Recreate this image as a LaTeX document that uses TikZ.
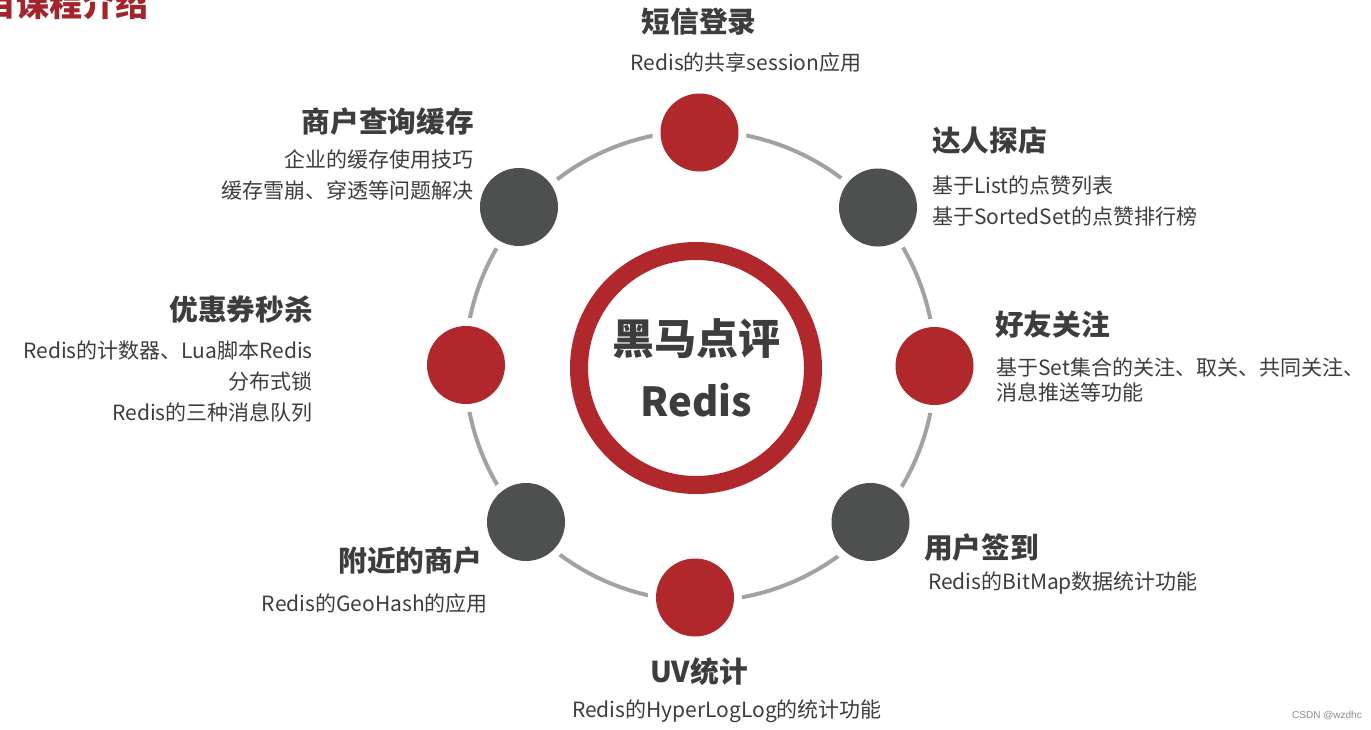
\documentclass[tikz,border=0pt]{standalone}
\usepackage{fontspec}
\newfontfamily\cjk{Noto Sans CJK SC}
\newfontfamily\wm{Liberation Sans}
\definecolor{cred}{HTML}{B0282B}
\definecolor{cdark}{HTML}{4E504F}
\definecolor{corbit}{HTML}{A2A2A2}
\definecolor{ctxt}{HTML}{3D3D3D}
\definecolor{ctitle}{HTML}{A3242B}
\tikzset{
  dot/.style={circle, minimum size=78pt, inner sep=0pt, preaction={draw=white, line width=16pt}},
  reddot/.style={dot, fill=cred},
  graydot/.style={dot, fill=cdark},
  ttl/.style={inner sep=0pt, text=ctxt, font=\cjk\bfseries\fontsize{28.7}{32}\selectfont},
  desc/.style={inner sep=0pt, text=ctxt, font=\cjk\fontsize{21}{31}\selectfont},
}
\begin{document}
\begin{tikzpicture}[x=1pt,y=-1pt]
\useasboundingbox (0,0) rectangle (1371,729);
\clip (0,0) rectangle (1371,729);
\fill[white] (0,0) rectangle (1371,729);
% header (cut off at the page edge, as in the reference)
\node[anchor=west, inner sep=0pt, text=ctitle, font=\cjk\bfseries\fontsize{33}{36}\selectfont] (hdr) at (-17,4) {目课程介绍};
% orbit
\draw[corbit, line width=4pt] (700,366) circle[radius=235];
% hub
\node[circle, draw=cred, line width=18pt, minimum size=234pt, inner sep=0pt, text=ctxt, align=center,
      font=\cjk\bfseries\fontsize{42}{62}\selectfont] (hub) at (696,368) {黑马点评\\\fontsize{40}{62}\selectfont Redis};
% small circles
\node[reddot]  (sms)   at (699.5,132.5) {};
\node[graydot] (tanD)  at (878,207.5) {};
\node[reddot]  (fol)   at (934.5,366) {};
\node[graydot] (sign)  at (870.5,522) {};
\node[reddot]  (uv)    at (695,597.5) {};
\node[graydot] (near)  at (526,522) {};
\node[reddot]  (sec)   at (466,365) {};
\node[graydot] (cache) at (519,207) {};
% texts
\node[ttl, anchor=center] (t1) at (699,22) {短信登录};
\node[desc, anchor=center] (d1) at (746,63) {Redis的共享session应用};
\node[ttl, anchor=east] (t2) at (474,122) {商户查询缓存};
\node[desc, anchor=north east, align=right] (d2) at (474,149.5) {企业的缓存使用技巧\\缓存雪崩、穿透等问题解决};
\node[ttl, anchor=west] (t3) at (932,141) {达人探店};
\node[desc, anchor=north west, align=left] (d3) at (932,175.5) {基于List的点赞列表\\基于SortedSet的点赞排行榜};
\node[ttl, anchor=east] (t4) at (313,310) {优惠券秒杀};
\node[desc, anchor=north east, align=right] (d4) at (313,340.5) {Redis的计数器、Lua脚本Redis\\分布式锁\\Redis的三种消息队列};
\node[ttl, anchor=west] (t5) at (995,325) {好友关注};
\node[desc, anchor=north west, align=left, font=\cjk\fontsize{21}{25}\selectfont] (d5) at (996,357.5) {基于Set集合的关注、取关、共同关注、\\消息推送等功能};
\node[ttl, anchor=west] (t6) at (924,548) {用户签到};
\node[desc, anchor=west] (d6) at (928,583) {Redis的BitMap数据统计功能};
\node[ttl, anchor=east] (t7) at (482,561) {附近的商户};
\node[desc, anchor=east] (d7) at (488,603) {Redis的GeoHash的应用};
\node[ttl, anchor=center] (t8) at (699,672) {UV统计};
\node[desc, anchor=center] (d8) at (727,711) {Redis的HyperLogLog的统计功能};
% watermark
\node[inner sep=0pt, text=black!45, font=\wm\fontsize{10}{12}\selectfont] (wm) at (1327,716) {CSDN @wzdhc};
\end{tikzpicture}
\end{document}
